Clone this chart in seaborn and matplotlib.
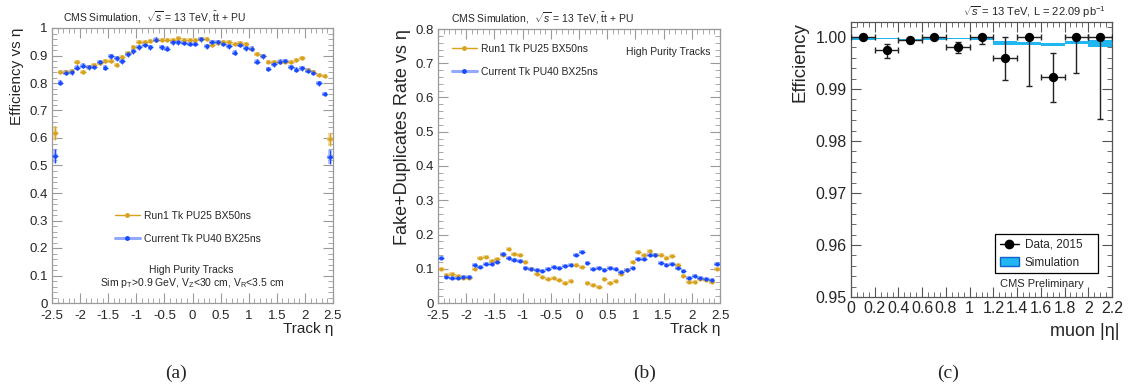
import numpy as np
import matplotlib
matplotlib.use("Agg")
import matplotlib.pyplot as plt
from matplotlib.lines import Line2D
from matplotlib.patches import Patch
from matplotlib.ticker import MultipleLocator, FuncFormatter
import seaborn as sns
import pandas as pd

sns.set_style("ticks")
plt.rcParams['font.family'] = ['Liberation Sans', 'DejaVu Sans']
plt.rcParams['mathtext.fontset'] = 'custom'
plt.rcParams['mathtext.rm'] = 'Liberation Sans'
plt.rcParams['mathtext.it'] = 'Liberation Sans:italic'
plt.rcParams['mathtext.sf'] = 'Liberation Sans'
plt.rcParams['axes.unicode_minus'] = False

# ---------------- data ----------------
eta_centers = [-2.45, -2.35, -2.25, -2.15, -2.05, -1.95, -1.85, -1.75, -1.65, -1.55,
               -1.45, -1.35, -1.25, -1.15, -1.05, -0.95, -0.85, -0.75, -0.65, -0.55,
               -0.45, -0.35, -0.25, -0.15, -0.05, 0.05, 0.15, 0.25, 0.35, 0.45,
               0.55, 0.65, 0.75, 0.85, 0.95, 1.05, 1.15, 1.25, 1.35, 1.45,
               1.55, 1.65, 1.75, 1.85, 1.95, 2.05, 2.15, 2.25, 2.35, 2.45]

eff_run1 = [0.617, 0.841, 0.840, 0.845, 0.876, 0.840, 0.858, 0.865, 0.874, 0.880,
            0.879, 0.864, 0.896, 0.908, 0.932, 0.950, 0.950, 0.953, 0.956, 0.956,
            0.955, 0.957, 0.962, 0.958, 0.958, 0.958, 0.960, 0.960, 0.939, 0.945,
            0.949, 0.949, 0.943, 0.945, 0.943, 0.922, 0.906, 0.900, 0.878, 0.876,
            0.876, 0.878, 0.876, 0.884, 0.890, 0.849, 0.841, 0.829, 0.827, 0.595]
eff_curr = [0.535, 0.801, 0.837, 0.839, 0.855, 0.863, 0.857, 0.860, 0.876, 0.855,
            0.898, 0.890, 0.879, 0.904, 0.916, 0.930, 0.939, 0.930, 0.957, 0.930,
            0.924, 0.949, 0.949, 0.947, 0.943, 0.943, 0.959, 0.934, 0.949, 0.949,
            0.943, 0.933, 0.910, 0.939, 0.927, 0.924, 0.878, 0.898, 0.851, 0.868,
            0.878, 0.880, 0.857, 0.849, 0.854, 0.845, 0.837, 0.799, 0.760, 0.532]
eff_err_run1 = [0.025] + [0.007] * 48 + [0.025]
eff_err_curr = [0.025] + [0.009] * 48 + [0.025]

fake_run1 = [0.100, 0.082, 0.084, 0.078, 0.072, 0.074, 0.100, 0.131, 0.133, 0.124,
             0.128, 0.140, 0.157, 0.143, 0.139, 0.121, 0.100, 0.084, 0.075, 0.070,
             0.073, 0.067, 0.057, 0.063, 0.112, 0.106, 0.058, 0.053, 0.048, 0.070,
             0.058, 0.063, 0.085, 0.095, 0.121, 0.149, 0.139, 0.153, 0.139, 0.139,
             0.131, 0.136, 0.112, 0.080, 0.060, 0.060, 0.071, 0.068, 0.062, 0.100]
fake_curr = [0.132, 0.077, 0.072, 0.072, 0.075, 0.075, 0.112, 0.106, 0.115, 0.115,
             0.120, 0.142, 0.130, 0.127, 0.124, 0.102, 0.100, 0.096, 0.094, 0.100,
             0.106, 0.102, 0.108, 0.110, 0.140, 0.148, 0.117, 0.098, 0.102, 0.097,
             0.101, 0.098, 0.091, 0.095, 0.102, 0.129, 0.129, 0.139, 0.141, 0.118,
             0.111, 0.113, 0.103, 0.094, 0.074, 0.080, 0.072, 0.071, 0.067, 0.114]
fake_err = 0.003

muon_eta = [0.1, 0.3, 0.5, 0.7, 0.9, 1.1, 1.3, 1.5, 1.7, 1.9, 2.1]
muon_eff = [1.0000, 0.99745, 0.99936, 1.0000, 0.9980, 1.0000, 0.99605, 1.0000, 0.99223, 1.0000, 1.0000]
muon_err_lo = [0.0003, 0.0014, 0.0005, 0.0002, 0.0011, 0.0014, 0.0043, 0.0095, 0.0048, 0.0069, 0.0158]
muon_err_hi = [0.0, 0.0013, 0.0005, 0.0, 0.0011, 0.0, 0.0039, 0.0, 0.0047, 0.0, 0.0]
sim_lo = [0.99949, 0.99962, 0.99924, 0.99950, 0.99962, 0.99936, 0.99853, 0.99847, 0.99822, 0.99860, 0.99810]
sim_hi = [0.99987, 0.99990, 0.99968, 0.99990, 0.99990, 0.99990, 0.99917, 0.99904, 0.99892, 0.99924, 0.99950]

# ---------------- styling ----------------
C_OR = '#D9A21E'
C_OR_L = '#EDCF86'
C_BL = '#1A4CFF'
C_BL_L = '#93A9FF'
GRAY = '#9a9a9a'

W, H = 1129, 389
fig = plt.figure(figsize=(W / 100, H / 100), dpi=100)


def px_axes(l, r, t, b):
    return fig.add_axes([l / W, (H - b) / H, (r - l) / W, (b - t) / H])


fmt_g = FuncFormatter(lambda v, p: ('%g' % round(v, 4)))


def root_ticks(ax, color=GRAY, labelsize=9.5):
    ax.tick_params(which='both', direction='in', top=True, right=True, color=color,
                   labelsize=labelsize)
    ax.tick_params(axis='x', which='both', pad=5)
    ax.tick_params(axis='y', which='both', pad=3)
    ax.tick_params(which='major', length=7, width=0.8)
    ax.tick_params(which='minor', length=3.5, width=0.6)
    for s in ax.spines.values():
        s.set_color(color)
        s.set_linewidth(0.9)


def draw_series(ax, x, y, yerr, c, cl):
    ax.errorbar(x, y, xerr=0.05, yerr=yerr, fmt='none', ecolor=cl, elinewidth=2.6,
                alpha=0.8, capsize=0, zorder=2)
    ax.errorbar(x, y, xerr=0.05, yerr=yerr, fmt='none', ecolor=c, elinewidth=0.8,
                capsize=0, zorder=3)
    sns.scatterplot(x=x, y=y, ax=ax, color=c, s=9, marker='o', linewidth=0, zorder=4)


title_sim = r'CMS Simulation,  $\sqrt{s}$ = 13 TeV, $\bar{\mathrm{t}}$t + PU'

# ---------------- panel (a) ----------------
axa = px_axes(52, 333, 28, 303)
draw_series(axa, eta_centers, eff_run1, eff_err_run1, C_OR, C_OR_L)
draw_series(axa, eta_centers, eff_curr, eff_err_curr, C_BL, C_BL_L)
axa.set_xlim(-2.5, 2.5)
axa.set_ylim(0, 1)
axa.xaxis.set_major_locator(MultipleLocator(0.5))
axa.xaxis.set_minor_locator(MultipleLocator(0.1))
axa.yaxis.set_major_locator(MultipleLocator(0.1))
axa.yaxis.set_minor_locator(MultipleLocator(0.02))
axa.xaxis.set_major_formatter(fmt_g)
axa.yaxis.set_major_formatter(fmt_g)
root_ticks(axa)
axa.set_xlabel('Track η', loc='right', fontsize=11, labelpad=0)
axa.set_ylabel('Efficiency vs η', loc='top', fontsize=11, labelpad=4)
axa.text(0.04, 1.01, title_sim, transform=axa.transAxes, fontsize=7.5, ha='left', va='bottom')
h_or = Line2D([], [], color=C_OR, lw=1.0, marker='o', ms=2.5)
h_bl = Line2D([], [], color=C_BL_L, lw=2.2, marker='o', ms=2.5, mfc=C_BL, mec=C_BL)
axa.legend([h_or, h_bl], ['Run1 Tk PU25 BX50ns', 'Current Tk PU40 BX25ns'],
           loc='upper left', bbox_to_anchor=(0.19, 0.37), frameon=False, fontsize=7.5,
           handlelength=2.4, labelspacing=1.25, handletextpad=0.45)
axa.text(0.495, 0.12, 'High Purity Tracks', transform=axa.transAxes, fontsize=7.5,
         ha='center', va='center')
axa.text(0.5, 0.072, r'Sim p$_{\mathrm{T}}$>0.9 GeV, V$_{\mathrm{Z}}$<30 cm, V$_{\mathrm{R}}$<3.5 cm',
         transform=axa.transAxes, fontsize=7.5, ha='center', va='center')

# ---------------- panel (b) ----------------
axb = px_axes(438, 720, 29, 303)
draw_series(axb, eta_centers, fake_run1, fake_err, C_OR, C_OR_L)
draw_series(axb, eta_centers, fake_curr, fake_err, C_BL, C_BL_L)
axb.set_xlim(-2.5, 2.5)
axb.set_ylim(0, 0.8)
axb.xaxis.set_major_locator(MultipleLocator(0.5))
axb.xaxis.set_minor_locator(MultipleLocator(0.1))
axb.yaxis.set_major_locator(MultipleLocator(0.1))
axb.yaxis.set_minor_locator(MultipleLocator(0.02))
axb.xaxis.set_major_formatter(fmt_g)
axb.yaxis.set_major_formatter(fmt_g)
root_ticks(axb)
axb.set_xlabel('Track η', loc='right', fontsize=11, labelpad=0)
axb.set_ylabel('Fake+Duplicates Rate vs η', loc='top', fontsize=13, labelpad=3)
axb.text(0.045, 1.01, title_sim, transform=axb.transAxes, fontsize=7.5, ha='left', va='bottom')
axb.legend([h_or, h_bl], ['Run1 Tk PU25 BX50ns', 'Current Tk PU40 BX25ns'],
           loc='upper left', bbox_to_anchor=(0.015, 0.98), frameon=False, fontsize=7.5,
           handlelength=2.4, labelspacing=1.25, handletextpad=0.45)
axb.text(0.965, 0.917, 'High Purity Tracks', transform=axb.transAxes, fontsize=7.5,
         ha='right', va='center')

# ---------------- panel (c) ----------------
axc = px_axes(851, 1112, 22, 297)
C_SIM = '#1FB6F2'
heights = [h - l for h, l in zip(sim_hi, sim_lo)]
axc.bar(muon_eta, heights, bottom=sim_lo, width=0.2, color=C_SIM, linewidth=0, zorder=1)
axc.errorbar(muon_eta, muon_eff, xerr=0.1, yerr=[muon_err_lo, muon_err_hi], fmt='none',
             ecolor='#222222', elinewidth=1.0, capsize=2, capthick=1.0, zorder=3)
sns.scatterplot(x=muon_eta, y=muon_eff, ax=axc, color='black', s=45, marker='o',
                linewidth=0, zorder=4)
axc.set_xlim(0, 2.2)
axc.set_ylim(0.95, 1.0029)
axc.xaxis.set_major_locator(MultipleLocator(0.2))
axc.xaxis.set_minor_locator(MultipleLocator(0.05))
axc.yaxis.set_major_locator(MultipleLocator(0.01))
axc.yaxis.set_minor_locator(MultipleLocator(0.002))
axc.xaxis.set_major_formatter(fmt_g)
axc.yaxis.set_major_formatter(FuncFormatter(lambda v, p: '%.2f' % v))
root_ticks(axc, color='#555555', labelsize=11.5)
axc.tick_params(axis='x', which='both', pad=3)
axc.set_ylabel('Efficiency', loc='top', fontsize=13.5, labelpad=5)
fig.text(1120 / W, 1 - 331 / H, 'muon |η|', fontsize=13, ha='right', va='center')
axc.text(0.975, 1.006, r'$\sqrt{s}$ = 13 TeV, L = 22.09 pb$^{-1}$', transform=axc.transAxes,
         fontsize=8, ha='right', va='bottom')
h_data = Line2D([], [], color='black', lw=1.0, marker='o', ms=6)
h_sim = Patch(facecolor=C_SIM, edgecolor='#1060D0', linewidth=1)
leg = axc.legend([h_data, h_sim], ['Data, 2015', 'Simulation'], loc='lower left',
                 bbox_to_anchor=(0.553, 0.086, 0.394, 0.153), mode='expand',
                 fontsize=8.5, fancybox=False, framealpha=1, edgecolor='black',
                 borderaxespad=0, handlelength=1.6, handletextpad=0.5, labelspacing=0.5)
leg.get_frame().set_linewidth(0.9)
axc.text(0.732, 0.046, 'CMS Preliminary', transform=axc.transAxes, fontsize=8,
         ha='center', va='center')

# ---------------- sub captions ----------------
for xc, lab in [(176, '(a)'), (645, '(b)'), (948, '(c)')]:
    fig.text(xc / W, 1 - 373 / H, lab, fontsize=14, family=['Liberation Serif', 'DejaVu Serif'],
             ha='center', va='center')

fig.savefig('out.png', dpi=100)
